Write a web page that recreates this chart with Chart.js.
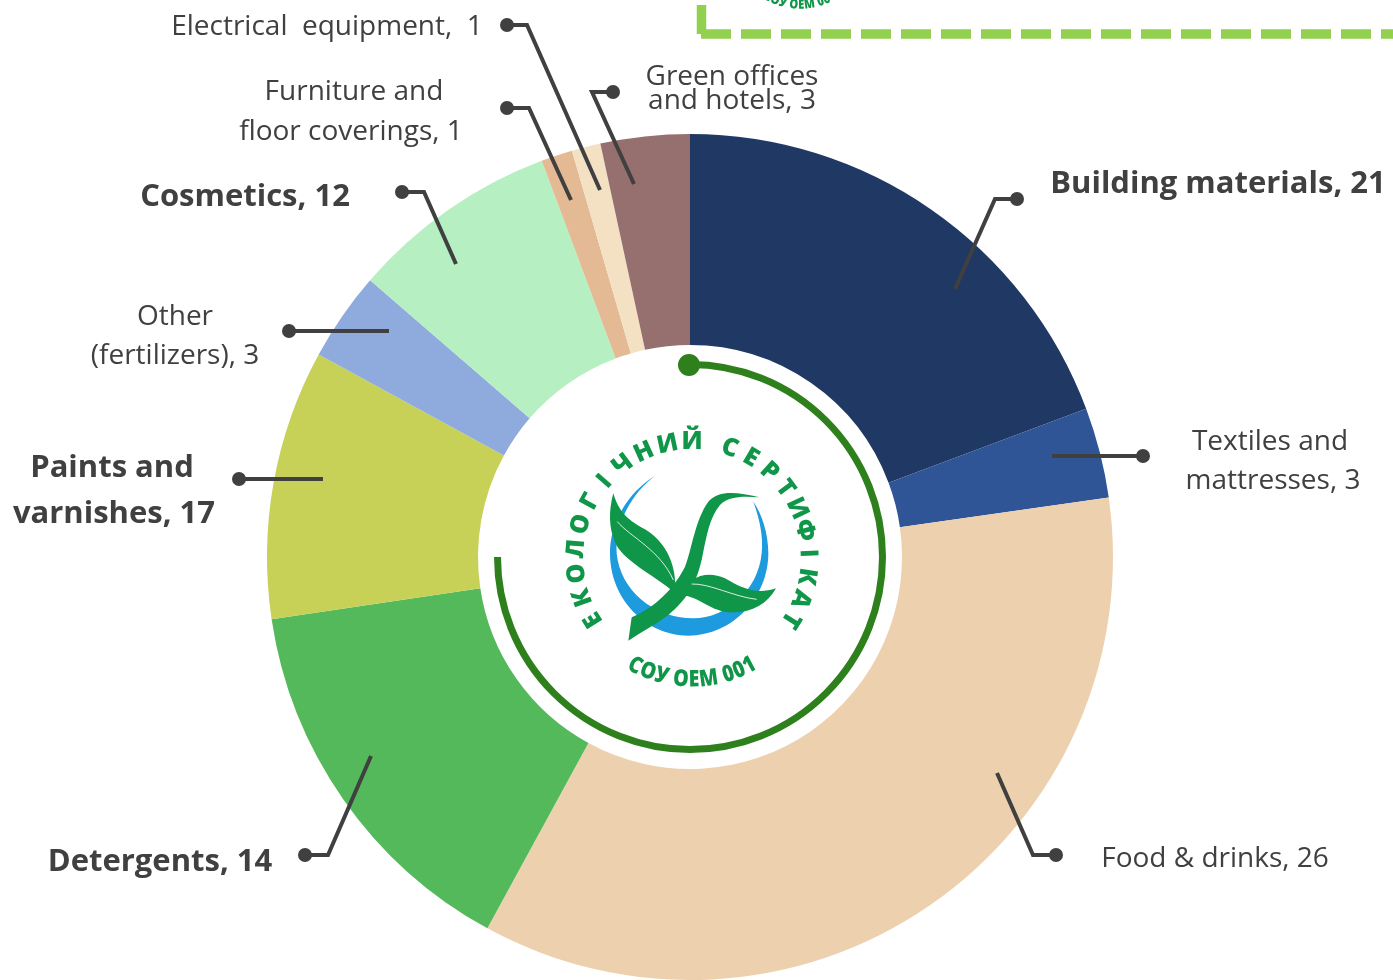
<!DOCTYPE html>
<html>
<head>
<meta charset="utf-8">
<title>Eco certificate product groups</title>
<script src="https://cdn.jsdelivr.net/npm/chart.js@4"></script>
<style>
  html, body { margin: 0; padding: 0; background: #fff; }
  #wrap { position: relative; width: 1393px; height: 980px; overflow: hidden; }
  #chart { position: absolute; left: 0; top: 0; }
  .lbl {
    position: absolute; transform: translate(-50%, -50%); white-space: pre;
    font-family: "Open Sans", sans-serif; font-size: 28px; color: #404040; line-height: 1;
  }
  .lbl.bold { font-weight: 700; font-size: 31px; }
</style>
</head>
<body>
<div id="wrap"><canvas id="chart" width="1393" height="980"></canvas></div>
<script>
// --- Data ---
const categories = ['Building materials', 'Textiles and mattresses', 'Food & drinks', 'Detergents', 'Paints and varnishes',
    'Other (fertilizers)', 'Cosmetics', 'Furniture and floor coverings', 'Electrical equipment', 'Green offices and hotels'];
// slice sizes as drawn, in % of the ring (they do not follow the printed counts)
const sliceShares = [19.3, 3.45, 35.2, 14.7, 10.3, 3.4, 7.95, 1.2, 1.1, 3.4];
const printedCounts = [21, 3, 26, 14, 17, 3, 12, 1, 1, 3];
const sliceColors = ['#1f3864', '#2f5597', '#edd1af', '#54b95a', '#c7d157', '#8faadc', '#b5efc2', '#e3ba93', '#f4e1c4', '#96706e'];
const labelLines = [['Building materials, 21'], ['Textiles and', 'mattresses, 3'], ['Food & drinks, 26'], ['Detergents, 14'],
    ['Paints and', 'varnishes, 17'], ['Other', '(fertilizers), 3'], ['Cosmetics, 12'], ['Furniture and', 'floor coverings, 1'],
    ['Electrical  equipment,  1'], ['Green offices', 'and hotels, 3']];
const boldLabels = [true, false, false, true, true, false, true, false, false, false];

// --- Layout of the annotations ---
const labelCenters = [[[1218, 181]], [[1270, 439], [1273, 478]], [[1215, 856]], [[160, 859]],
    [[112, 465], [114, 511]], [[175, 314], [175, 353]], [[245, 194]], [[354, 89], [351, 129]],
    [[327, 24]], [[732, 74], [732, 98]]];
const leaders = [
    [[1017, 199], [995, 199], [955, 289]],
    [[1143, 456], [1052, 456]],
    [[1056, 855], [1033, 855], [997, 773]],
    [[305, 855], [328, 855], [371, 756]],
    [[239, 479], [323, 479]],
    [[289, 331], [389, 331]],
    [[402, 192], [424, 192], [456, 264]],
    [[507, 108], [529, 108], [571, 200]],
    [[507, 25], [527, 25], [600, 190]],
    [[613, 92], [592, 92], [634, 184]]
];

// --- Text labels ---
const wrap = document.getElementById('wrap');
labelLines.forEach((lines, i) => {
    lines.forEach((line, j) => {
        const el = document.createElement('div');
        el.className = boldLabels[i] ? 'lbl bold' : 'lbl';
        el.textContent = line;
        el.style.left = labelCenters[i][j][0] + 'px';
        el.style.top = labelCenters[i][j][1] + 'px';
        wrap.appendChild(el);
    });
});

// --- Logo helpers ---
const LOGO_GREEN = '#0f9648';
const LOGO_BLUE = '#1e9ade';

function drawLeafLogo(ctx) {
    // shapes traced in a 3x crop, so scale down
    ctx.save();
    ctx.translate(560, 410);
    ctx.scale(1 / 3, 1 / 3);

    ctx.fillStyle = LOGO_BLUE;
    ctx.beginPath();
    ctx.moveTo(285, 197);
    ctx.bezierCurveTo(200, 250, 150, 340, 150, 430);
    ctx.bezierCurveTo(150, 570, 260, 677, 385, 677);
    ctx.bezierCurveTo(520, 677, 625, 560, 625, 430);
    ctx.bezierCurveTo(625, 370, 605, 310, 580, 275);
    ctx.bezierCurveTo(600, 330, 610, 380, 605, 430);
    ctx.bezierCurveTo(595, 540, 500, 625, 400, 625);
    ctx.bezierCurveTo(280, 625, 180, 540, 170, 430);
    ctx.bezierCurveTo(165, 340, 215, 250, 285, 197);
    ctx.closePath();
    ctx.fill();

    ctx.fillStyle = LOGO_GREEN;
    // left leaf
    ctx.beginPath();
    ctx.moveTo(160, 250);
    ctx.bezierCurveTo(146, 300, 146, 355, 165, 395);
    ctx.bezierCurveTo(185, 450, 275, 490, 345, 548);
    ctx.bezierCurveTo(352, 470, 320, 400, 262, 362);
    ctx.bezierCurveTo(220, 338, 180, 320, 160, 250);
    ctx.closePath();
    ctx.fill();
    // stem
    ctx.beginPath();
    ctx.moveTo(205, 692);
    ctx.lineTo(215, 622);
    ctx.bezierCurveTo(290, 590, 345, 530, 375, 470);
    ctx.bezierCurveTo(395, 420, 405, 330, 445, 275);
    ctx.bezierCurveTo(475, 240, 530, 245, 598, 262);
    ctx.bezierCurveTo(550, 258, 505, 258, 480, 285);
    ctx.bezierCurveTo(450, 320, 440, 375, 428, 435);
    ctx.bezierCurveTo(412, 515, 385, 565, 325, 615);
    ctx.bezierCurveTo(285, 645, 245, 665, 205, 692);
    ctx.closePath();
    ctx.fill();
    // right leaf
    ctx.beginPath();
    ctx.moveTo(360, 555);
    ctx.bezierCurveTo(385, 500, 440, 480, 495, 505);
    ctx.bezierCurveTo(545, 535, 590, 555, 648, 535);
    ctx.bezierCurveTo(620, 585, 570, 612, 505, 607);
    ctx.bezierCurveTo(445, 600, 410, 555, 360, 555);
    ctx.closePath();
    ctx.fill();

    // veins
    ctx.strokeStyle = '#fff';
    ctx.lineWidth = 2.5;
    ctx.beginPath();
    ctx.moveTo(172, 335);
    ctx.bezierCurveTo(210, 380, 300, 420, 340, 510);
    ctx.moveTo(395, 522);
    ctx.bezierCurveTo(450, 520, 520, 560, 590, 568);
    ctx.stroke();
    ctx.restore();
}

// one glyph at a time along a circle; angle 0 is straight up
function drawTopArcText(ctx, text, cx, cy, r, startDeg, stepDeg) {
    [...text].forEach((ch, i) => {
        const a = (startDeg + stepDeg * i) * Math.PI / 180;
        ctx.save();
        ctx.translate(cx + r * Math.sin(a), cy - r * Math.cos(a));
        ctx.rotate(a);
        ctx.fillText(ch, 0, 0);
        ctx.restore();
    });
}

// bottom arc, reading left to right, with proportional spacing
function drawBottomArcText(ctx, text, cx, cy, r, squeeze) {
    const total = ctx.measureText(text).width * squeeze;
    let run = -total / 2;
    [...text].forEach(ch => {
        const w = ctx.measureText(ch).width * squeeze;
        const a = (run + w / 2) / r;
        ctx.save();
        ctx.translate(cx + r * Math.sin(a), cy + r * Math.cos(a));
        ctx.rotate(-a);
        ctx.scale(squeeze, 1);
        ctx.fillText(ch, 0, 0);
        ctx.restore();
        run += w;
    });
}

// --- Plugin: everything around the ring ---
const annotations = {
    id: 'annotations',
    afterDatasetsDraw(chart) {
        const ctx = chart.ctx;
        const arc = chart.getDatasetMeta(0).data[0];
        const cx = arc.x, cy = arc.y;

        // inner ring with its start dot
        ctx.save();
        ctx.strokeStyle = '#2e801c';
        ctx.fillStyle = '#2e801c';
        ctx.lineWidth = 7;
        ctx.beginPath();
        ctx.arc(cx, cy, 192.5, -Math.PI / 2, Math.PI);
        ctx.stroke();
        ctx.beginPath();
        ctx.arc(cx - 1, cy - 192, 11, 0, Math.PI * 2);
        ctx.fill();
        ctx.restore();

        // leader lines
        ctx.save();
        ctx.strokeStyle = '#404040';
        ctx.fillStyle = '#404040';
        ctx.lineWidth = 4;
        leaders.forEach(pts => {
            ctx.beginPath();
            pts.forEach((p, i) => i ? ctx.lineTo(p[0], p[1]) : ctx.moveTo(p[0], p[1]));
            ctx.stroke();
            ctx.beginPath();
            ctx.arc(pts[0][0], pts[0][1], 7, 0, Math.PI * 2);
            ctx.fill();
        });
        ctx.restore();

        // logo
        drawLeafLogo(ctx);
        ctx.save();
        ctx.fillStyle = LOGO_GREEN;
        ctx.textAlign = 'center';
        ctx.textBaseline = 'middle';
        ctx.font = '800 25px "Open Sans"';
        drawTopArcText(ctx, 'ЕКОЛОГІЧНИЙ', 692, 558, 116, -122, 12.2);
        drawTopArcText(ctx, 'СЕРТИФІКАТ', 692, 558, 116, 19, 11.45);
        ctx.font = '800 23px "Open Sans"';
        drawBottomArcText(ctx, 'СОУ ОЕМ 001', 692, 558, 122, 0.85);
        // the same seal, cut by the top edge
        ctx.font = '800 13px "Open Sans"';
        drawBottomArcText(ctx, 'СОУ ОЕМ 001', 800, -62, 67, 0.85);
        ctx.restore();

        // dashed frame at the top right
        ctx.save();
        ctx.strokeStyle = '#92d050';
        ctx.lineWidth = 9.5;
        ctx.beginPath();
        ctx.moveTo(701.5, 5);
        ctx.lineTo(701.5, 34);
        ctx.stroke();
        ctx.setLineDash([30, 10]);
        ctx.beginPath();
        ctx.moveTo(701, 34);
        ctx.lineTo(1393, 34);
        ctx.stroke();
        ctx.restore();
    }
};

// --- Chart ---
new Chart(document.getElementById('chart').getContext('2d'), {
    type: 'doughnut',
    data: {
        labels: categories,
        datasets: [{ data: sliceShares, backgroundColor: sliceColors, borderWidth: 0, printed: printedCounts }]
    },
    options: {
        responsive: false,
        animation: false,
        cutout: 212,
        layout: { padding: { left: 267, right: 280, top: 134, bottom: 0 } },
        plugins: { legend: { display: false }, tooltip: { enabled: false } }
    },
    plugins: [annotations]
});
</script>
</body>
</html>
